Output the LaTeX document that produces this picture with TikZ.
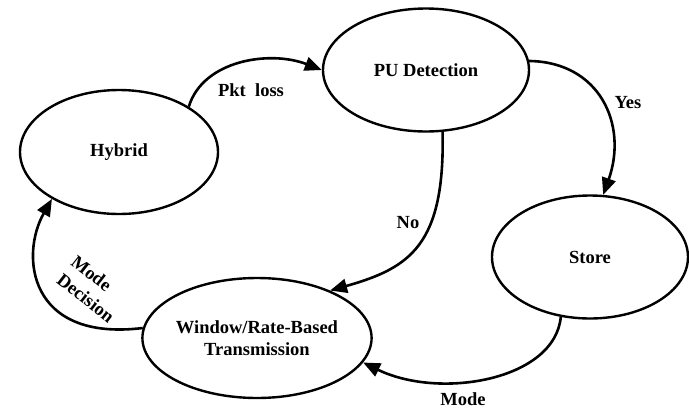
\documentclass[tikz,border=0pt]{standalone}
\usepackage{fontspec}
\setmainfont{Liberation Serif}
\usetikzlibrary{shapes.geometric,arrows.meta}
\tikzset{
  state/.style={ellipse, draw, line width=2.4pt, inner sep=0pt, align=center,
    font=\fontsize{18.5}{22}\selectfont\bfseries},
  trans/.style={line width=2.6pt, -{Triangle[length=17pt,width=14pt]}},
  lbl/.style={font=\fontsize{18.5}{23}\selectfont\bfseries, inner sep=0pt}
}
\begin{document}
\begin{tikzpicture}[x=1pt,y=-1pt]
\useasboundingbox (0,0) rectangle (689,408);
% states
\node[state, minimum width=198pt, minimum height=124pt] (hyb) at (119,152) {Hybrid};
\node[state, minimum width=206pt, minimum height=123pt] (pud) at (426,70) {PU Detection};
\node[state, minimum width=196pt, minimum height=123pt] (sto) at (590,257) {Store};
\node[state, minimum width=208pt, minimum height=120pt] (win) at (257,338) {Window/Rate-Based\\Transmission};
% transitions
\draw[trans] (hyb.33) .. controls (203,60) and (270,50) .. (pud.180);
\draw[trans] (pud.5) .. controls (600,62) and (628,125) .. (sto.78);
\draw[trans] (pud.285) .. controls (445,245) and (410,268) .. (win.33);
\draw[trans] (sto.244) .. controls (555,380) and (440,400) .. (win.347);
\draw[trans] (win.175) .. controls (28,342) and (20,255) .. (hyb.215);
% labels
\node[lbl] (lpkt) at (251,90) {Pkt\ \ loss};
\node[lbl] (lyes) at (628,103) {Yes};
\node[lbl] (lno) at (408,223) {No};
\node[lbl] (lmode) at (463,399) {Mode};
\node[lbl, rotate=-38, align=left] (lmd) at (93,289) {Mode\\Decision};
\end{tikzpicture}
\end{document}
